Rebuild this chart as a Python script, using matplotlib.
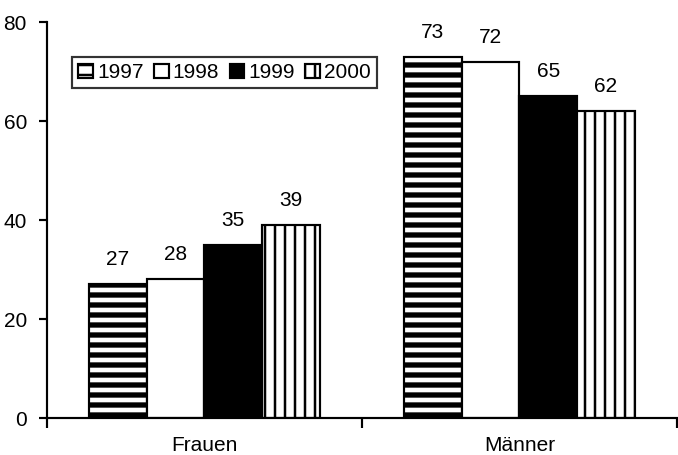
import matplotlib.pyplot as plt
import numpy as np

plt.rcParams["font.family"] = ["Liberation Sans", "DejaVu Sans"]
plt.rcParams["font.size"] = 12.5

CATEGORIES = ["Frauen", "Männer"]
YEARS = ["1997", "1998", "1999", "2000"]
VALUES = {
    "1997": [27, 73],
    "1998": [28, 72],
    "1999": [35, 65],
    "2000": [39, 62],
}

STYLES = {
    "1997": dict(facecolor="white", hatch="--", hatch_lw=3.2),
    "1998": dict(facecolor="white", hatch=None, hatch_lw=1.0),
    "1999": dict(facecolor="black", hatch=None, hatch_lw=1.0),
    "2000": dict(facecolor="white", hatch="||", hatch_lw=1.5),
}

fig = plt.figure(figsize=(6.78 / 1.2, 4.55 / 1.2), dpi=120)
ax = fig.add_axes([0.0693, 0.0813, 0.929, 0.8703])

width = 0.183
centers = np.arange(len(CATEGORIES)) + 0.5
for i, year in enumerate(YEARS):
    st = STYLES[year]
    plt.rcParams["hatch.linewidth"] = st["hatch_lw"]
    xs = centers + (i - 1.5) * width
    bars = ax.bar(xs, VALUES[year], width=width, color=st["facecolor"],
                  edgecolor="black", linewidth=1.3, hatch=st["hatch"], label=year)
    for bar, v in zip(bars, VALUES[year]):
        ax.annotate(f"{v}", (bar.get_x() + bar.get_width() / 2, v),
                    xytext=(0, 9), textcoords="offset points",
                    ha="center", va="bottom")

ax.set_xlim(0, 2)
ax.set_ylim(0, 80)
ax.set_yticks([0, 20, 40, 60, 80])
ax.set_xticks([0, 1, 2])
ax.set_xticklabels([])
ax.set_xticks(centers, minor=True)
ax.set_xticklabels(CATEGORIES, minor=True)
ax.tick_params(axis="x", which="minor", length=0, pad=11)
ax.tick_params(axis="x", which="major", length=6, width=1.3, direction="out")
ax.tick_params(axis="y", length=5, width=1.3, direction="out", pad=7)
ax.spines["top"].set_visible(False)
ax.spines["right"].set_visible(False)
for s in ("left", "bottom"):
    ax.spines[s].set_linewidth(1.3)

leg = ax.legend(ncol=4, loc="upper left", bbox_to_anchor=(0.04, 0.912),
                borderaxespad=0, frameon=True, fancybox=False, edgecolor="black",
                handlelength=0.7, handleheight=0.7, handletextpad=0.2,
                columnspacing=0.5, borderpad=0.3)
leg.get_frame().set_linewidth(1.3)

fig.savefig("out.png", dpi=120)
